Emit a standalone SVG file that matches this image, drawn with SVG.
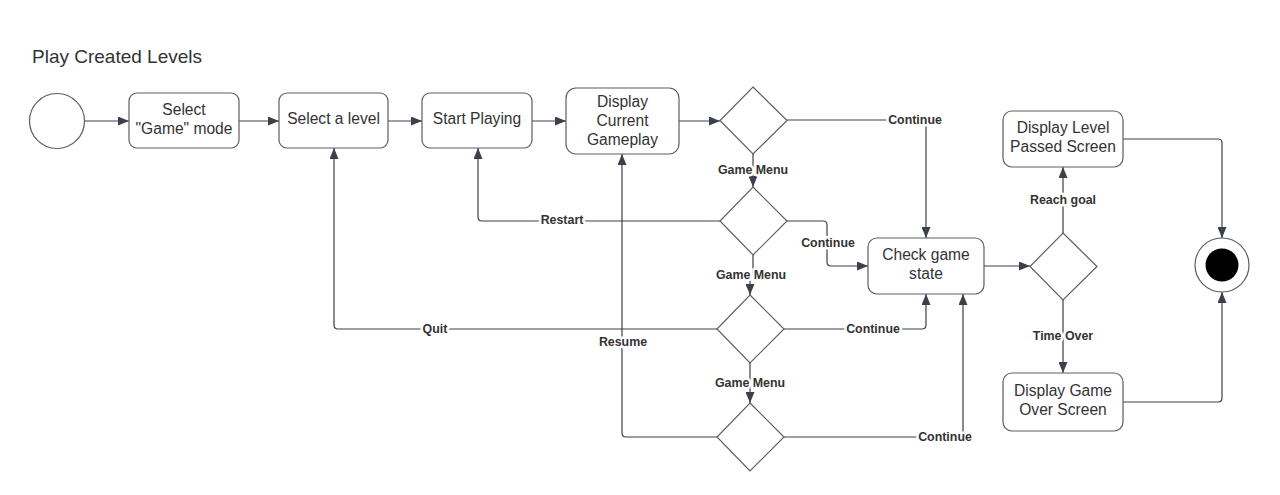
<svg xmlns="http://www.w3.org/2000/svg" width="1280" height="495" viewBox="0 0 1280 495">
<defs>
<marker id="arr" markerUnits="userSpaceOnUse" markerWidth="11" markerHeight="9" refX="11" refY="4.5" orient="auto">
<path d="M0,0 L11,4.5 L0,9 z" fill="#3a414a"/>
</marker>
<style>
.n{fill:#fff;stroke:#5e5e5e;stroke-width:1.2}
.t{font-family:"Liberation Sans",Arial,sans-serif;font-size:15.6px;fill:#333;text-anchor:middle}
.c{fill:none;stroke:#3a414a;stroke-width:1.2;marker-end:url(#arr)}
.l{font-family:"Liberation Sans",Arial,sans-serif;font-size:12.4px;font-weight:bold;fill:#333;text-anchor:middle;stroke:#fff;stroke-width:5;paint-order:stroke;stroke-linejoin:round}
</style>
</defs>
<rect width="1280" height="495" fill="#fff"/>
<text x="32" y="63" font-family="Liberation Sans, Arial, sans-serif" font-size="19" fill="#333">Play Created Levels</text>

<g id="connectors">
<path class="c" d="M85,121 H129"/>
<path class="c" d="M239,121 H279"/>
<path class="c" d="M388,121 H422"/>
<path class="c" d="M532,121 H566"/>
<path class="c" d="M679,121 H720"/>
<path class="c" d="M787,120 H922 Q926,120 926,124 V238"/>
<path class="c" d="M753,154 V187"/>
<path class="c" d="M720,221 H482 Q478,221 478,217 V148"/>
<path class="c" d="M787,221 H823 Q827,221 827,225 V262 Q827,266 831,266 H868"/>
<path class="c" d="M753,255 V274 H750 V295"/>
<path class="c" d="M717,329 H338 Q334,329 334,325 V148"/>
<path class="c" d="M784,329 H922 Q926,329 926,325 V294"/>
<path class="c" d="M750,363 V403"/>
<path class="c" d="M717,437 H626 Q622,437 622,433 V154"/>
<path class="c" d="M784,437 H959 Q963,437 963,433 V294"/>
<path class="c" d="M984,266 H1030"/>
<path class="c" d="M1063,233 V167"/>
<path class="c" d="M1063,300 V373"/>
<path class="c" d="M1123,139 H1218 Q1222,139 1222,143 V238"/>
<path class="c" d="M1123,402 H1218 Q1222,402 1222,398 V292"/>
<text class="l" x="915" y="124">Continue</text>
<text class="l" x="753" y="174">Game Menu</text>
<text class="l" x="562" y="224">Restart</text>
<text class="l" x="828" y="247">Continue</text>
<text class="l" x="751" y="279">Game Menu</text>
<text class="l" x="435" y="333">Quit</text>
<text class="l" x="873" y="333">Continue</text>
<text class="l" x="623" y="346">Resume</text>
<text class="l" x="750" y="387">Game Menu</text>
<text class="l" x="945" y="441">Continue</text>
<text class="l" x="1063" y="204">Reach goal</text>
<text class="l" x="1063" y="340">Time Over</text>
</g>

<g id="start"><circle class="n" cx="57" cy="121" r="27.5"/></g>
<g id="select-game-mode"><rect class="n" x="129" y="93" width="110" height="55" rx="8"/>
<text class="t" x="184" y="115">Select</text><text class="t" x="184" y="134">"Game" mode</text></g>
<g id="select-level"><rect class="n" x="279" y="93" width="109" height="55" rx="8"/>
<text class="t" x="333.5" y="124">Select a level</text></g>
<g id="start-playing"><rect class="n" x="422" y="93" width="110" height="55" rx="8"/>
<text class="t" x="477" y="124">Start Playing</text></g>
<g id="display-gameplay"><rect class="n" x="566" y="88" width="113" height="66" rx="10"/>
<text class="t" x="622.5" y="107">Display</text><text class="t" x="622.5" y="126">Current</text><text class="t" x="622.5" y="145">Gameplay</text></g>
<g id="decision1"><path class="n" d="M753,87 L787,120.5 L753,154 L720,120.5 Z"/></g>
<g id="decision2"><path class="n" d="M753,187 L787,221 L753,255 L720,221 Z"/></g>
<g id="decision3"><path class="n" d="M750,295 L784,329 L750,363 L717,329 Z"/></g>
<g id="decision4"><path class="n" d="M750,403 L784,437 L750,471 L717,437 Z"/></g>
<g id="check-state"><rect class="n" x="868" y="238" width="116" height="56" rx="9"/>
<text class="t" x="926" y="260">Check game</text><text class="t" x="926" y="279">state</text></g>
<g id="decision5"><path class="n" d="M1063,233 L1097,266.5 L1063,300 L1030,266.5 Z"/></g>
<g id="level-passed"><rect class="n" x="1003" y="111" width="120" height="56" rx="9"/>
<text class="t" x="1063" y="133">Display Level</text><text class="t" x="1063" y="152">Passed Screen</text></g>
<g id="game-over"><rect class="n" x="1003" y="373" width="120" height="58" rx="9"/>
<text class="t" x="1063" y="396">Display Game</text><text class="t" x="1063" y="415">Over Screen</text></g>
<g id="end"><circle class="n" cx="1222" cy="265" r="27"/><circle cx="1222" cy="265" r="16.5" fill="#000"/></g>
</svg>
